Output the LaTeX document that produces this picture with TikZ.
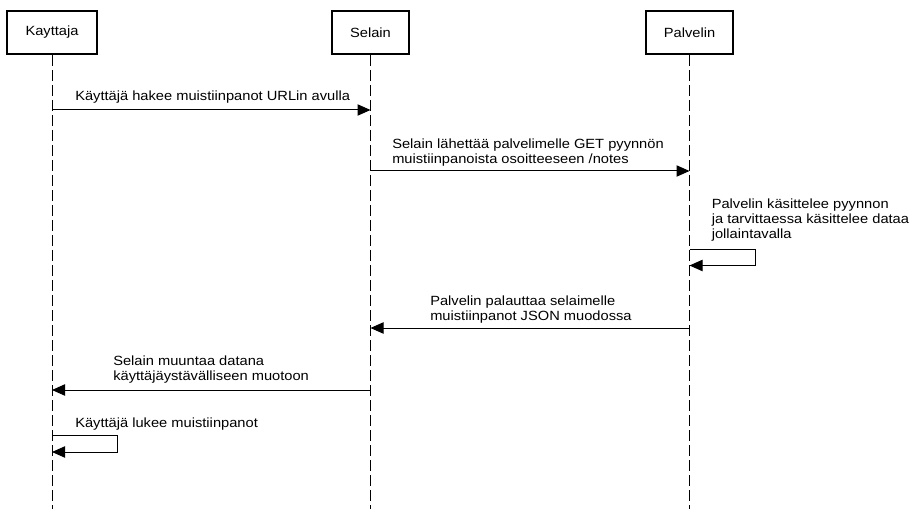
\documentclass[tikz,border=0pt]{standalone}
\usepackage{fontspec}
\setmainfont[FakeStretch=1.1]{Liberation Sans}
\usetikzlibrary{arrows.meta}
\begin{document}
\begin{tikzpicture}[x=0.75pt,y=-0.75pt,
  actor/.style={draw,line width=1.5pt,minimum height=32.25pt,inner sep=0pt,font=\fontsize{10pt}{11.25pt}\selectfont},
  lifeline/.style={line width=0.75pt,dash pattern=on 8.25pt off 3pt},
  msg/.style={line width=0.75pt,-{Triangle[length=9.75pt,width=8.5pt]}},
  lbl/.style={anchor=west,align=left,inner sep=0pt,font=\fontsize{10pt}{11.25pt}\selectfont}]
\useasboundingbox (0,0) rectangle (916,509);
% actors
\node[actor,minimum width=67.5pt] (kay) at (52,32.5) {Kayttaja};
\node[actor,minimum width=57.75pt] (sel) at (370.5,32.5) {Selain};
\node[actor,minimum width=65.25pt] (pal) at (689.5,32.5) {Palvelin};
% lifeline ends
\coordinate (kend) at (52,509);
\coordinate (send) at (370.5,509);
\coordinate (pend) at (689.5,509);
\draw[lifeline] (kay.south) -- (kend);
\draw[lifeline] (sel.south) -- (send);
\draw[lifeline] (pal.south) -- (pend);
% message 1
\coordinate (k1) at (52,110);
\coordinate (s1) at (370.5,110);
\draw[msg] (k1) -- (s1);
\node[lbl] (t1) at (75,97) {Käyttäjä hakee muistiinpanot URLin avulla};
% message 2
\coordinate (s2) at (370.5,171);
\coordinate (p2) at (689.5,171);
\draw[msg] (s2) -- (p2);
\node[lbl] (t2) at (392,152.5) {Selain lähettää palvelimelle GET pyynnön\\muistiinpanoista osoitteeseen /notes};
% self message 3
\coordinate (p3a) at (689.5,249.5);
\coordinate (p3c1) at (755,249.5);
\coordinate (p3c2) at (755,265.5);
\coordinate (p3b) at (689.5,265.5);
\draw[msg] (p3a) -- (p3c1) -- (p3c2) -- (p3b);
\node[lbl] (t3) at (711.5,220) {Palvelin käsittelee pyynnon\\ja tarvittaessa käsittelee dataa\\jollaintavalla};
% message 4
\coordinate (p4) at (689.5,328);
\coordinate (s4) at (370.5,328);
\draw[msg] (p4) -- (s4);
\node[lbl] (t4) at (430,309.5) {Palvelin palauttaa selaimelle\\muistiinpanot JSON muodossa};
% message 5
\coordinate (s5) at (370.5,390);
\coordinate (k5) at (52,390);
\draw[msg] (s5) -- (k5);
\node[lbl] (t5) at (113,370) {Selain muuntaa datana\\käyttäjäystävälliseen muotoon};
% self message 6
\coordinate (k6a) at (52,435.5);
\coordinate (k6c1) at (117.5,435.5);
\coordinate (k6c2) at (117.5,452);
\coordinate (k6b) at (52,452);
\draw[msg] (k6a) -- (k6c1) -- (k6c2) -- (k6b);
\node[lbl] (t6) at (75,424) {Käyttäjä lukee muistiinpanot};
\end{tikzpicture}
\end{document}
